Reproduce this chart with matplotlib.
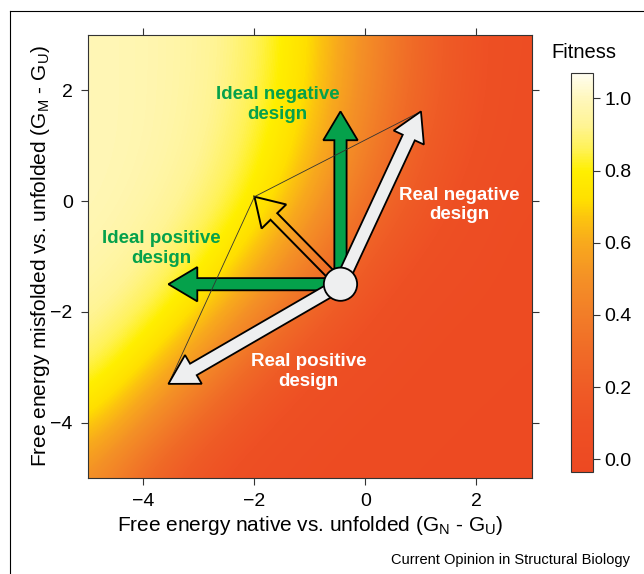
import numpy as np
import matplotlib
matplotlib.use("Agg")
import matplotlib.pyplot as plt
from matplotlib.colors import LinearSegmentedColormap, Normalize
from matplotlib.patches import FancyArrow, Circle
from matplotlib.lines import Line2D

plt.rcParams['font.family'] = ['Liberation Sans', 'DejaVu Sans']

# grid of the fitness landscape (read at integer energies)
gn = [-5, -4, -3, -2, -1, 0, 1, 2, 3]   # G_N - G_U
gm = [-5, -4, -3, -2, -1, 0, 1, 2, 3]   # G_M - G_U
# rows = gm from -5 up to 3, cols = gn from -5 to 3
fitness = [
    [0.50, 0.27, 0.12, 0.05, 0.02, 0.01, 0.00, 0.00, 0.00],
    [0.73, 0.50, 0.27, 0.12, 0.05, 0.02, 0.01, 0.00, 0.00],
    [0.88, 0.72, 0.49, 0.26, 0.11, 0.05, 0.02, 0.01, 0.00],
    [0.95, 0.87, 0.71, 0.47, 0.25, 0.11, 0.04, 0.02, 0.01],
    [0.98, 0.94, 0.84, 0.67, 0.42, 0.21, 0.09, 0.04, 0.01],
    [0.99, 0.97, 0.91, 0.79, 0.58, 0.33, 0.16, 0.06, 0.02],
    [0.99, 0.98, 0.94, 0.84, 0.67, 0.42, 0.21, 0.09, 0.04],
    [0.99, 0.98, 0.95, 0.87, 0.71, 0.47, 0.25, 0.11, 0.04],
    [0.99, 0.98, 0.95, 0.88, 0.72, 0.49, 0.26, 0.11, 0.05],
]

# design vectors
origin = (-0.45, -1.5)
ideal_neg_tip = (-0.45, 1.62)
ideal_pos_tip = (-3.55, -1.5)
real_neg_tip = (1.0, 1.62)
real_pos_tip = (-3.55, -3.3)
combined_tip = (-2.0, 0.08)

cmap = LinearSegmentedColormap.from_list("fit", [
    (0.000, "#ED4922"),
    (0.122, "#EE5024"),
    (0.212, "#EF5C26"),
    (0.303, "#F06B27"),
    (0.393, "#F27D28"),
    (0.484, "#F49026"),
    (0.574, "#F8A91D"),
    (0.637, "#FCC40F"),
    (0.682, "#FFDF00"),
    (0.755, "#FFEF00"),
    (0.810, "#FFF255"),
    (0.870, "#FFF494"),
    (0.937, "#FFF7BC"),
    (1.000, "#FFFDF0"),
])
norm = Normalize(vmin=-0.035, vmax=1.07)

fig = plt.figure(figsize=(6.44, 5.74), dpi=100)
ax = fig.add_axes([0.1366, 0.1672, 0.6894, 0.7718])

im = ax.imshow(np.array(fitness), origin='lower', cmap=cmap, norm=norm,
               extent=(gn[0] - 0.5, gn[-1] + 0.5, gm[0] - 0.5, gm[-1] + 0.5),
               interpolation='bicubic', aspect='auto')
ax.set_xlim(-5, 3)
ax.set_ylim(-5, 3)

green = "#05A14B"
grey = "#EEEFF0"

def arrow(tip, fc, w, hw, hl, z, lw=1.3):
    a = FancyArrow(origin[0], origin[1], tip[0] - origin[0], tip[1] - origin[1],
                   width=w, head_width=hw, head_length=hl,
                   length_includes_head=True, fc=fc, ec='black', lw=lw,
                   zorder=z, joinstyle='miter')
    ax.add_patch(a)

arrow(combined_tip, 'none', 0.17, 0.62, 0.5, 3, lw=1.4)
arrow(ideal_neg_tip, green, 0.22, 0.62, 0.52, 4)
arrow(ideal_pos_tip, green, 0.22, 0.62, 0.52, 4)
arrow(real_neg_tip, grey, 0.24, 0.6, 0.52, 6)
arrow(real_pos_tip, grey, 0.24, 0.6, 0.52, 6)

ax.plot([real_pos_tip[0], combined_tip[0], real_neg_tip[0]],
        [real_pos_tip[1], combined_tip[1], real_neg_tip[1]],
        color='#333333', lw=0.6, zorder=5)

ax.add_patch(Circle(origin, 0.3, fc=grey, ec='black', lw=1.3, zorder=7))

lab = dict(fontsize=13.5, fontweight='bold', ha='center', va='center',
           linespacing=1.2, zorder=8)
ax.text(-1.58, 1.75, "Ideal negative\ndesign", color=green, **lab)
ax.text(-3.68, -0.86, "Ideal positive\ndesign", color=green, **lab)
ax.text(1.69, -0.07, "Real negative\ndesign", color='white', **lab)
ax.text(-1.03, -3.08, "Real positive\ndesign", color='white', **lab)

ax.set_xticks([-4, -2, 0, 2])
ax.set_yticks([-4, -2, 0, 2])
ax.tick_params(direction='out', length=5, width=0.8, color='#333333',
               top=True, right=True, labelsize=14, pad=6)
for s in ax.spines.values():
    s.set_color('#333333')
    s.set_linewidth(0.8)
ax.set_xlabel("Free energy native vs. unfolded (G$_\\mathregular{N}$ - G$_\\mathregular{U}$)",
              fontsize=15, labelpad=3)
ax.set_ylabel("Free energy misfolded vs. unfolded (G$_\\mathregular{M}$ - G$_\\mathregular{U}$)",
              fontsize=15, labelpad=-1)

cax = fig.add_axes([0.8866, 0.1777, 0.0342, 0.695])
cb = fig.colorbar(im, cax=cax, ticks=[0, 0.2, 0.4, 0.6, 0.8, 1.0])
cb.ax.set_yticklabels(["0.0", "0.2", "0.4", "0.6", "0.8", "1.0"])
cb.ax.tick_params(direction='out', length=5, width=0.8, color='#333333',
                  labelsize=14, pad=3)
cb.outline.set_edgecolor('#333333')
cb.outline.set_linewidth(0.8)
fig.text(0.907, 0.909, "Fitness", fontsize=14.5, ha='center', va='center')

fig.text(0.979, 0.024, "Current Opinion in Structural Biology", fontsize=10.5,
         ha='right', va='center')

# frame lines top and left
fig.add_artist(Line2D([0.016, 0.016], [0.0, 0.981], color='black', lw=0.8))
fig.add_artist(Line2D([0.016, 1.0], [0.981, 0.981], color='black', lw=0.8))

fig.savefig("out.png", dpi=100)
